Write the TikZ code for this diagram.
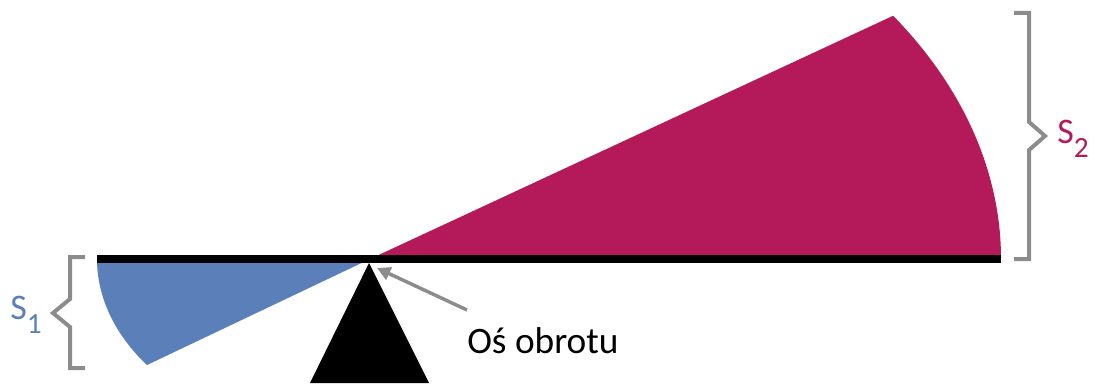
\documentclass[tikz,border=0pt]{standalone}
\usepackage{fontspec}
\setmainfont{Carlito}
\usetikzlibrary{positioning,arrows.meta}
\definecolor{wine}{RGB}{180,26,90}
\definecolor{steel}{RGB}{91,127,185}
\definecolor{bracegray}{RGB}{140,140,140}

\begin{document}
\begin{tikzpicture}[x=0.75pt,y=0.75pt,
                    brace/.style={draw=bracegray,line width=3pt,line join=miter},
                    lbl/.style={inner sep=0pt,anchor=base west,font=\fontsize{27}{32}\selectfont},
                    subs/.style={font=\fontsize{22}{26}\selectfont}]
  \useasboundingbox (0,0) rectangle (1094,383);

  % Sectors on both sides of the axis
  \coordinate (pivot) at (370,124);
  \fill[wine] (pivot) -- ++(631,0)
    arc[start angle=0,end angle=34,x radius=631,y radius=435] -- cycle;
  \fill[steel] (pivot) -- ++(-273,0)
    arc[start angle=180,end angle=215.2,x radius=273,y radius=184] -- cycle;

  % Beam and support
  \fill[black] (97,120) rectangle (1001,128);
  \coordinate (apex) at (369,120);
  \fill[black] (apex) -- (429,0) -- (310,0) -- cycle;

  % Braces
  \coordinate (s1tip) at (53,70);
  \coordinate (s2tip) at (1045,247);
  \draw[brace] (85,126) -- (70,126) -- (70,84) -- (s1tip) -- (70,56) -- (70,15) -- (85,15);
  \draw[brace] (1014,370) -- (1029,370) -- (1029,261) -- (s2tip) -- (1029,233) -- (1029,124) -- (1014,124);
  \node[lbl,text=steel] (s1) at (10,64) {S\raisebox{-10.5pt}{\fontsize{22}{26}\selectfont 1}};
  \node[lbl,text=wine] (s2) at (1057,240) {S\raisebox{-10.5pt}{\fontsize{22}{26}\selectfont 2}};

  % Axis label
  \node[inner sep=0pt,anchor=base west,font=\fontsize{28}{34}\selectfont] (axislbl) at (467,30) {Oś obrotu};
  \coordinate (tail) at (467,73);
  \coordinate (axis) at (377,115);
  \draw[draw=bracegray,line width=2.6pt,-{Triangle[length=10pt,width=10pt]}] (tail) -- (axis);
\end{tikzpicture}
\end{document}
